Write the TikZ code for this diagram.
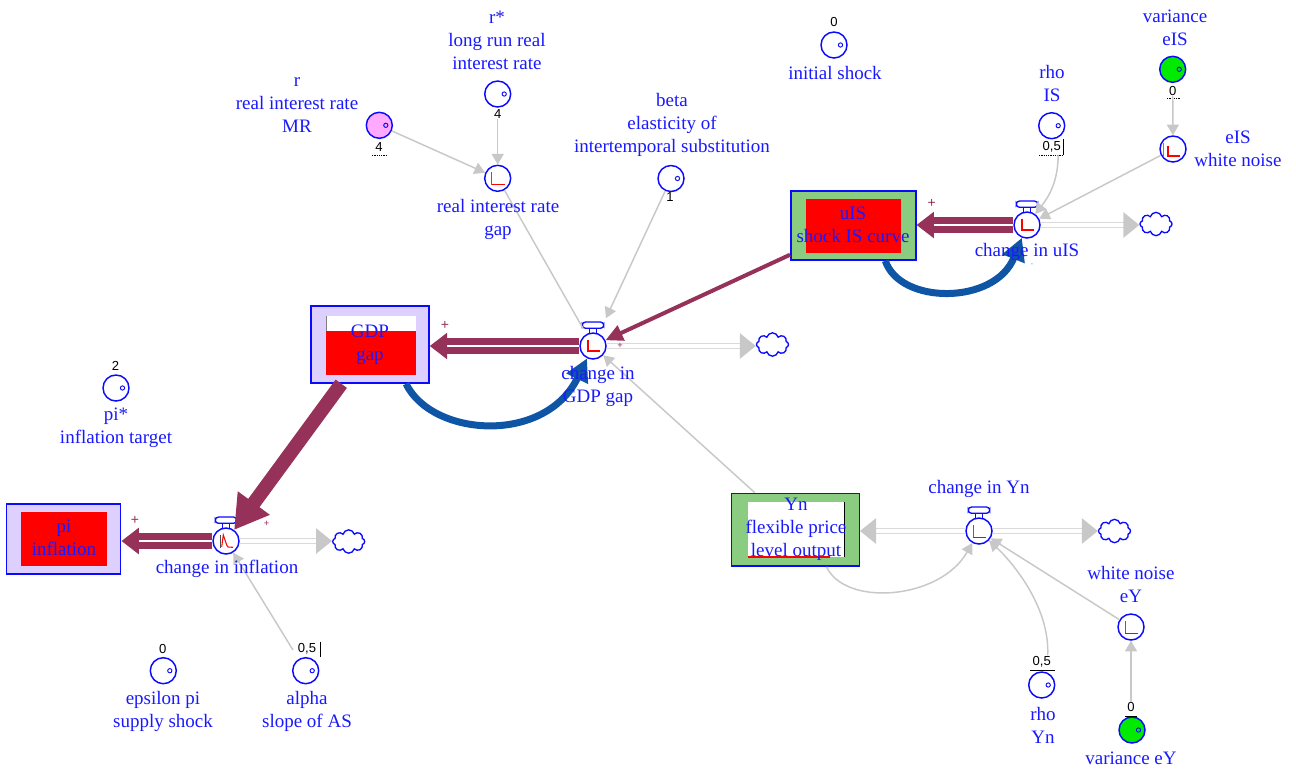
\documentclass[tikz,border=0pt]{standalone}
\usepackage{fontspec}
\setmainfont{Liberation Serif}
\newfontfamily\numfont{Liberation Sans}
\usetikzlibrary{arrows.meta,shapes.symbols,calc}
\definecolor{txtblue}{RGB}{25,25,255}
\definecolor{lineblue}{RGB}{10,10,255}
\definecolor{flowred}{RGB}{150,50,90}
\definecolor{arcblue}{RGB}{15,85,165}
\definecolor{lav}{RGB}{221,208,255}
\definecolor{stockgreen}{RGB}{138,204,128}
\definecolor{pinkc}{RGB}{255,170,255}
\definecolor{greenc}{RGB}{0,235,0}
\definecolor{cgray}{RGB}{200,200,200}
\definecolor{pgray}{RGB}{218,218,218}
\definecolor{poldash}{RGB}{130,150,210}
\begin{document}
\begin{tikzpicture}[x=0.75pt,y=-0.75pt,
  lbl/.style={text=txtblue, align=center, inner sep=0pt, font=\fontsize{14.25}{17.25}\selectfont},
  num/.style={text=black, inner sep=0.5pt, font=\numfont\fontsize{9.8}{11}\selectfont},
  pol/.style={text=flowred, inner sep=0pt, font=\numfont\fontsize{10.5}{12}\selectfont},
  spol/.style={text=flowred, inner sep=0pt, font=\numfont\fontsize{7}{8}\selectfont},
  konst/.style={circle, draw=lineblue, line width=1.1pt, fill=white, minimum size=19.5pt, inner sep=0pt,
    path picture={\draw[lineblue,line width=0.7pt] ($(path picture bounding box.center)+(6.5,0)$) circle (1.6pt);}},
  aux/.style={circle, draw=lineblue, line width=1.1pt, fill=white, minimum size=19.5pt, inner sep=0pt},
  iconL/.style={path picture={
    \draw[black!60, line width=0.6pt] ($(path picture bounding box.center)+(-6,-6)$) -- ($(path picture bounding box.center)+(-6,6.3)$);
    \draw[red, line width=1pt] ($(path picture bounding box.center)+(-6,6.3)$) -- ($(path picture bounding box.center)+(7,6.3)$);}},
  iconR/.style={path picture={
    \draw[red, line width=1.4pt] ($(path picture bounding box.center)+(-4.7,-6.5)$) -- ($(path picture bounding box.center)+(-4.7,5)$) -- ($(path picture bounding box.center)+(7,5)$);}},
  iconS/.style={path picture={
    \draw[black!70, line width=0.6pt] ($(path picture bounding box.center)+(-6,-6)$) -- ($(path picture bounding box.center)+(-6,7)$);
    \draw[red, line width=0.8pt] ($(path picture bounding box.center)+(-4.3,5.7)$) -- ($(path picture bounding box.center)+(-2.7,-6)$) -- ($(path picture bounding box.center)+(0.7,4)$) -- ($(path picture bounding box.center)+(2,6)$) -- ($(path picture bounding box.center)+(7,6.3)$);}},
  stock/.style={draw=lineblue, line width=1.1pt, inner sep=0pt},
  cloudn/.style={cloud, cloud puffs=8, cloud ignores aspect, draw=lineblue, line width=1pt, fill=white, minimum width=24pt, minimum height=17.5pt, inner sep=0pt},
  mpipe/.style={draw=flowred, line width=4.8pt, double=white, double distance=2.2pt, -{Triangle[length=13pt,width=19pt]}},
  gpipe/.style={draw=pgray, line width=1.3pt, double=white, double distance=2.6pt, -{Triangle[length=12pt,width=19pt,color=cgray]}},
  conn/.style={draw=cgray, line width=1.1pt, -{Triangle[length=8pt,width=9pt]}},
  mconn/.style={draw=flowred, line width=3pt, -{Triangle[length=13pt,width=12pt]}},
  bigm/.style={draw=flowred, line width=10.5pt, -{Triangle[length=25pt,width=28pt]}},
  barc/.style={draw=arcblue, line width=5.25pt, -{Triangle[length=17pt,width=17pt]}}
]
\useasboundingbox (0,0) rectangle (1296,769);

% ---------- stocks ----------
\node[stock, fill=lav, minimum width=88.5pt, minimum height=57.75pt] (sGDP) at (370,344.5) {};
\fill[white] (326,316) rectangle (416,375);
\fill[red] (326,331) rectangle (416,375);
\draw[gray, line width=0.5pt] (326,316) -- (326,331);

\node[stock, fill=stockgreen, minimum width=93.75pt, minimum height=51.75pt] (sUIS) at (853.3,225.5) {};
\fill[red] (806,199) rectangle (901,252.5);

\node[stock, fill=lav, minimum width=85.5pt, minimum height=52.5pt] (sPI) at (63.7,539) {};
\fill[red] (20.7,511.7) rectangle (106.7,565.7);

\node[stock, fill=stockgreen, minimum width=95.7pt, minimum height=54.5pt] (sYN) at (795.5,529.7) {};
\fill[white] (747.7,501.7) rectangle (844,557.3);
\draw[red, line width=1pt] (747.7,557) -- (830,557);
\draw[black, line width=0.5pt] (844,501.7) -- (844,557.3);

% ---------- valves ----------
\node[aux, iconR] (vGDP) at (593,346) {};
\node[aux, iconR] (vUIS) at (1027,225) {};
\node[aux, iconS] (vPI) at (226,541) {};
\node[aux, iconL] (vYN) at (979,531) {};

% ---------- clouds ----------
\node[cloudn] (cGDP) at (772.5,344.5) {};
\node[cloudn] (cUIS) at (1156,224) {};
\node[cloudn] (cPI) at (348.7,541.5) {};
\node[cloudn] (cYN) at (1114.5,531) {};

% ---------- pipes ----------
\draw[mpipe] (vGDP) -- (vGDP -| sGDP.east);
\draw[gpipe] (vGDP) -- (vGDP -| cGDP.west);
\draw[mpipe] (vUIS) -- (vUIS -| sUIS.east);
\draw[gpipe] (vUIS) -- (vUIS -| cUIS.west);
\draw[mpipe] (vPI) -- (vPI -| sPI.east);
\draw[gpipe] (vPI) -- (vPI -| cPI.west);
\draw[gpipe] (vYN) -- (vYN -| sYN.east);
\draw[gpipe] (vYN) -- (vYN -| cYN.west);

% valve handles
\foreach \v in {vGDP,vUIS,vPI,vYN}{
  \draw[lineblue, line width=0.9pt] ($(\v)+(-3.3,-12.8)$) -- ($(\v)+(-3.3,-17.7)$)
                                    ($(\v)+(3.3,-12.8)$) -- ($(\v)+(3.3,-17.7)$);
  \draw[lineblue, line width=1pt, fill=white, rounded corners=2.5pt] ($(\v)+(-10.8,-24)$) rectangle ($(\v)+(10.8,-17.7)$);
}

% ---------- constants and auxiliaries ----------
\node[konst] (kRs) at (497.7,94) {};
\node[konst, fill=pinkc] (kR) at (379.3,125.3) {};
\node[konst] (kBeta) at (671,178.5) {};
\node[konst] (kInit) at (834,45) {};
\node[konst] (kRhoIS) at (1051.7,125.7) {};
\node[konst, fill=greenc] (kVarIS) at (1172.7,69.3) {};
\node[konst] (kPiS) at (116,388) {};
\node[konst] (kEps) at (163.3,670.7) {};
\node[konst] (kAlpha) at (305.7,670.7) {};
\node[konst] (kRhoYn) at (1041.7,685) {};
\node[konst, fill=greenc] (kVarEY) at (1132,730) {};
\node[aux, iconL] (aRgap) at (497.7,178.3) {};
\node[aux, path picture={
    \draw[black!50, line width=0.5pt] ($(path picture bounding box.center)+(-10,-6)$) -- ($(path picture bounding box.center)+(-10,7)$);
    \draw[red, line width=1.5pt] ($(path picture bounding box.center)+(-4.7,-3.5)$) -- ($(path picture bounding box.center)+(-4.7,7)$) -- ($(path picture bounding box.center)+(7,7)$);}] (aEIS) at (1173,149) {};
\node[aux, iconL] (aEY) at (1131,627) {};

% ---------- numbers ----------
\node[num] (nRs) at (497.7,114) {4};
\node[num] (nR) at (379,147) {4};
\draw[black, line width=0.5pt, dash pattern=on 1pt off 0.7pt] (372,155) -- (386,155);
\node[num] (nBeta) at (670,197) {1};
\node[num] (nInit) at (834,22) {0};
\node[num] (nRhoIS) at (1051.7,146.7) {0,5};
\draw[black, line width=0.5pt, dash pattern=on 1pt off 0.7pt] (1039,155) -- (1063,155);
\draw[black, line width=0.6pt] (1063.5,139) -- (1063.5,155);
\node[num] (nVarIS) at (1172.7,90.5) {0};
\draw[black, line width=0.5pt, dash pattern=on 1pt off 0.7pt] (1167,98.5) -- (1180,98.5);
\node[num] (nPiS) at (115.5,365.5) {2};
\node[num] (nEps) at (162.7,648.5) {0};
\node[num] (nAlpha) at (307,649) {0,5};
\draw[black, line width=0.6pt] (320,641.5) -- (320,656.5);
\node[num] (nRhoYn) at (1041.7,661.7) {0,5};
\draw[black, line width=0.6pt] (1030,670.7) -- (1055,670.7);
\node[num] (nVarEY) at (1131,707.3) {0};
\draw[black, line width=0.6pt] (1125,716) -- (1137,716);

% ---------- connectors ----------
\draw[conn] (kR) -- (aRgap);
\draw[conn] (nRs) -- (aRgap);
\draw[conn, -, shorten >=15pt] (aRgap) -- (vGDP.center);
\draw[conn, shorten >=23pt] (kBeta) -- (vGDP.center);
\draw[conn] (sYN) -- (vGDP);
\draw[mconn] (sUIS) -- (vGDP);
\draw[bigm] (sGDP) -- (vPI);
\draw[conn] ($(kAlpha)!0.16!(vPI)$) -- (vPI);
\draw[conn] ($(kRhoIS)+(6.5,29.5)$) .. controls (1058,185) and (1046,200) .. (vUIS);
\draw[conn] (aEIS) -- (vUIS);
\draw[conn] (nVarIS) -- (aEIS);
\draw[conn] ($(sYN.south)+(31,0)$) .. controls (845,607) and (940,600) .. (vYN);
\draw[conn] ($(nRhoYn.north)+(6,0)$) .. controls (1050,605) and (1010,560) .. (vYN);
\draw[conn] (aEY) -- (vYN);
\draw[conn] (nVarEY) -- (aEY);
\draw[barc] ($(sGDP.south)+(36,0)$) .. controls (432,437) and (545,445) .. (vGDP);
\draw[barc] ($(sUIS.south)+(32,0)$) .. controls (900,305) and (995,305) .. (vUIS);

% ---------- polarity signs ----------
\node[pol] (p1) at (445,325.7) {+};
\node[pol] (p2) at (931.7,203.3) {+};
\node[pol] (p3) at (135,520) {+};
\node[spol] (p4) at (266.7,524) {+};
\node[spol] (p5) at (620,345.7) {+};
\node[inner sep=0pt, text=poldash, font=\numfont\fontsize{6}{7}\selectfont] (p6) at (1032,265) {-};

% ---------- labels ----------
\node[lbl] (lRs) at (497,40) {r*\\long run real\\interest rate};
\node[lbl] (lR) at (297,105) {r\\real interest rate\\MR};
\node[lbl] (lBeta) at (672,125) {beta\\elasticity of\\intertemporal substitution};
\node[lbl] (lInit) at (835,73) {initial shock};
\node[lbl] (lRhoIS) at (1052,83.5) {rho\\IS};
\node[lbl] (lVarIS) at (1175,28) {variance\\eIS};
\node[lbl] (lEIS) at (1238,148.5) {eIS\\white noise};
\node[lbl] (lRgap) at (498,219.5) {real interest rate\\gap};
\node[lbl] (lGDP) at (370,344.5) {GDP\\gap};
\node[lbl] (lUIS) at (853,224.5) {uIS\\shock IS curve};
\node[lbl] (lcUIS) at (1027,252) {change in uIS};
\node[lbl] (lcGDP) at (598,386) {change in\\GDP gap};
\node[lbl] (lPiS) at (116,427.5) {pi*\\inflation target};
\node[lbl] (lPI) at (64,537.5) {pi\\inflation};
\node[lbl] (lcPI) at (227,569) {change in inflation};
\node[lbl] (lcYN) at (979,489) {change in Yn};
\node[lbl] (lYN) at (796,529) {Yn\\flexible price\\level output};
\node[lbl] (lEY) at (1131,584) {white noise\\eY};
\node[lbl] (lEps) at (163,711) {epsilon pi\\supply shock};
\node[lbl] (lAlpha) at (307,711) {alpha\\slope of AS};
\node[lbl] (lRhoYn) at (1043,725) {rho\\Yn};
\node[lbl] (lVarEY) at (1131,758) {variance eY};
\end{tikzpicture}
\end{document}
